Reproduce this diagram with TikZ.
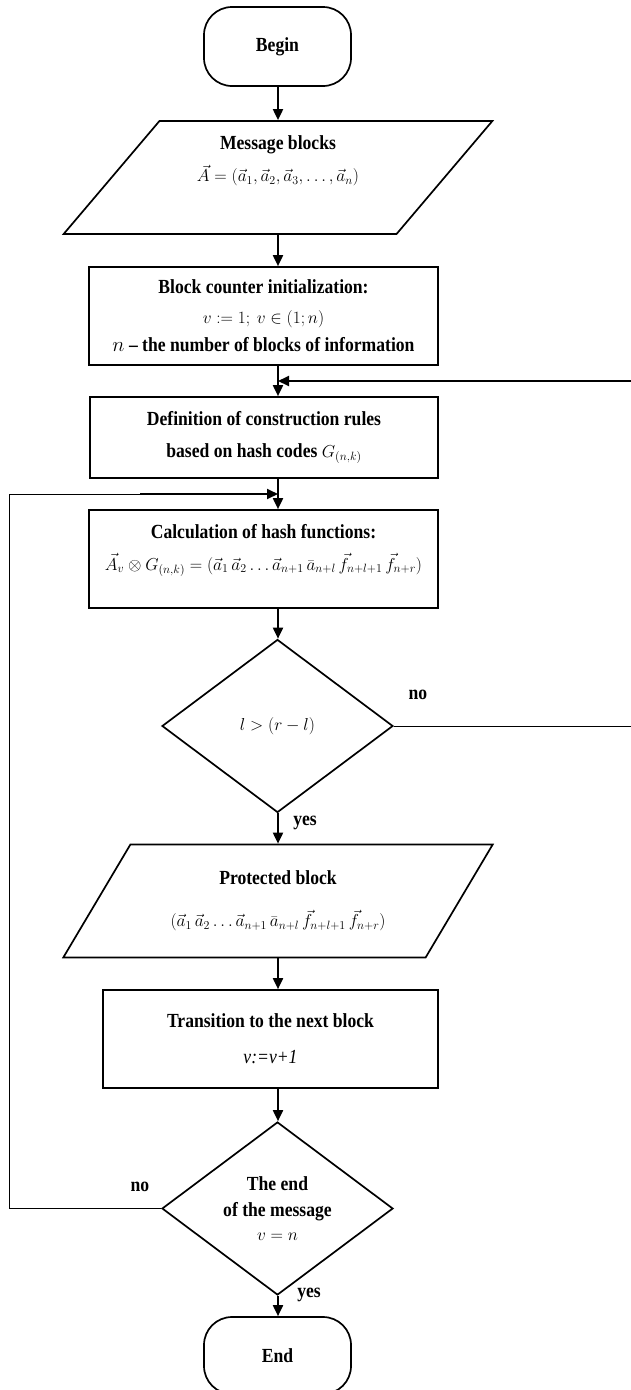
\documentclass[tikz,border=0pt]{standalone}
\usepackage{fontspec}
\setmainfont{Liberation Serif}[FakeStretch=0.88]
\usetikzlibrary{
  arrows.meta,
  shapes.geometric
}

% formulas are set a little smaller than the bold text
\newcommand{\mathline}[1]{{\fontsize{17}{20}\selectfont$#1$}}

\tikzset{
    box/.style={draw, line width=1.7pt, rectangle, align=center, inner sep=2pt},
    terminal/.style={draw, line width=1.7pt, rounded corners=28pt,
        minimum width=147pt, minimum height=79pt},
    io/.style={draw, line width=1.7pt, trapezium,
        trapezium left angle=53, trapezium right angle=127,
        trapezium stretches=true,
        minimum width=430pt, minimum height=113pt, align=center},
    decision/.style={draw, line width=1.7pt, diamond, aspect=1.34,
        minimum width=231pt, minimum height=173pt, inner sep=0pt, align=center},
    flow/.style={->, line width=1.9pt},
    thinline/.style={line width=0.8pt},
}

\begin{document}
\begin{tikzpicture}[x=1pt, y=-1pt, >={Triangle[length=11pt,width=10pt]},
    font=\fontsize{20}{24}\selectfont\bfseries]

\useasboundingbox (0,0) rectangle (631,1390);
\coordinate (spine) at (278,0);

% The blocks, top to bottom
\node[terminal] (begin) at (277.5,46.5) {Begin};
\node[io] (msg) at (278,177.5) {Message blocks\\[8pt]
    \mathline{\vec{A}=(\vec{a}_1,\vec{a}_2,\vec{a}_3,\ldots,\vec{a}_n)}\\[14pt]\mbox{}};
\node[box, minimum width=349pt, minimum height=98pt] (init) at (263.5,316)
    {Block counter initialization:\\[6pt]
    \mathline{v:=1;\ v\in(1;n)}\\[4pt]
    $n$ – the number of blocks of information};
\node[box, minimum width=348pt, minimum height=81pt] (def) at (264,437.5)
    {Definition of construction rules\\[8pt]
    based on hash codes \mathline{G_{(n,k)}}};
\node[box, minimum width=349pt, minimum height=98pt] (calc) at (263.5,559)
    {Calculation of hash functions:\\[8pt]
    \mathline{\vec{A}_v\otimes G_{(n,k)}=(\vec{a}_1\,\vec{a}_2\ldots\vec{a}_{n+1}\,\bar{a}_{n+l}\,\vec{f}_{n+l+1}\,\vec{f}_{n+r})}\\[0pt]\mbox{}};
\node[decision] (cond) at (277.5,726) {\mathline{l>(r-l)}};
\node[io] (prot) at (278,901) {Protected block\\[18pt]
    \mathline{(\vec{a}_1\,\vec{a}_2\ldots\vec{a}_{n+1}\,\bar{a}_{n+l}\,\vec{f}_{n+l+1}\,\vec{f}_{n+r})}};
\node[box, minimum width=335pt, minimum height=98pt] (next) at (270.5,1039)
    {Transition to the next block\\[12pt]
    {\mdseries\itshape v:=v+1}};
\node[decision] (last) at (277.5,1208.5) {The end\\[2pt] of the message\\ \mathline{v=n}};
\node[terminal, minimum height=77pt] (end) at (277.5,1355.5) {End};

% Main flow down the middle
\foreach \a/\b in {begin/msg, msg/init, init/def, def/calc, calc/cond,
                   cond/prot, prot/next, next/last, last/end}
    \draw[flow] (\a.south -| spine) -- (\b.north -| spine);

% The two loops back
\coordinate (joinA) at (278,381);
\coordinate (joinB) at (278,494);
\coordinate (rightB) at (645,726);
\coordinate (rightT) at (645,381);
\coordinate (leftB) at (9,1208.5);
\coordinate (leftT) at (9,494);
\coordinate (leftM) at (140,494);

\draw[thinline] (cond.east) -- (rightB) -- (rightT);
\draw[flow] (rightT) -- (joinA);
\draw[thinline] (last.west) -- (leftB) -- (leftT) -- (leftM);
\draw[flow] (leftM) -- (joinB);

% Answers
\node (noA) at (418,695) {no};
\node (yesA) at (305,823) {yes};
\node (noB) at (140,1187) {no};
\node (yesB) at (309,1295) {yes};

\end{tikzpicture}
\end{document}
